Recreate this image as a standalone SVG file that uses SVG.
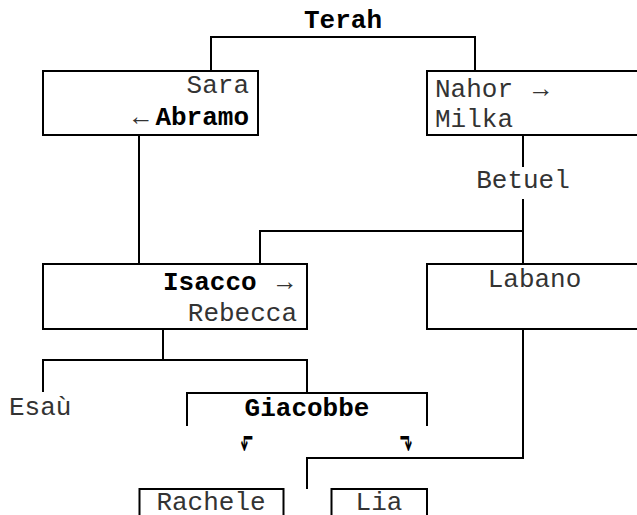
<svg xmlns="http://www.w3.org/2000/svg" width="637" height="515" viewBox="0 0 637 515">
<style>
  .bg { fill: #ffffff; }
  .box { fill: #ffffff; stroke: #000000; stroke-width: 2; }
  .ln { fill: none; stroke: #000000; stroke-width: 2; }
  text { font-family: "Liberation Mono", "DejaVu Sans Mono", monospace; font-size: 26px; fill: #333333; }
  .b { font-weight: bold; fill: #000000; }
  .arr { font-family: "DejaVu Sans", "Liberation Sans", sans-serif; font-size: 28px; fill: #000000; }
</style>
<rect class="bg" x="0" y="0" width="637" height="515"/>
<g id="connectors">
  <path class="ln" d="M211,71 V37 H475 V71"/>
  <path class="ln" d="M139,135 V264"/>
  <path class="ln" d="M523,135 V167"/>
  <path class="ln" d="M523,199 V264"/>
  <path class="ln" d="M260,264 V231 H523"/>
  <path class="ln" d="M163,329 V360"/>
  <path class="ln" d="M43,392 V360 H307 V393"/>
  <path class="ln" d="M187,426 V393 H427 V426"/>
  <path class="ln" d="M523,329 V458 H307 V489"/>
</g>
<g id="terah"><text class="b" x="343" y="27.5" text-anchor="middle">Terah</text></g>
<g id="abramo-sara">
  <rect class="box" x="43" y="71" width="215" height="64"/>
  <text x="249" y="93" text-anchor="end">Sara</text>
  <text x="133" y="125">←</text>
  <text class="b" x="249" y="125" text-anchor="end">Abramo</text>
</g>
<g id="nahor-milka">
  <rect class="box" x="427" y="71" width="222" height="64"/>
  <text x="435" y="97">Nahor</text>
  <text x="533" y="97">→</text>
  <text x="435" y="126.5">Milka</text>
</g>
<g id="betuel"><text x="523" y="188" text-anchor="middle">Betuel</text></g>
<g id="isacco-rebecca">
  <rect class="box" x="43" y="264" width="264" height="65"/>
  <text class="b" x="163" y="290">Isacco</text>
  <text x="277" y="290">→</text>
  <text x="297" y="321" text-anchor="end">Rebecca</text>
</g>
<g id="labano">
  <rect class="box" x="427" y="264" width="222" height="65"/>
  <text x="534.5" y="287" text-anchor="middle">Labano</text>
</g>
<g id="esau"><text x="9" y="415">Esaù</text></g>
<g id="giacobbe">
  <text class="b" x="307" y="416" text-anchor="middle">Giacobbe</text>
  <text class="arr" transform="translate(247,451) scale(0.55,1.5)" x="0" y="0" text-anchor="middle">⬐</text>
  <text class="arr" transform="translate(406,451) scale(0.55,1.5)" x="0" y="0" text-anchor="middle">⬎</text>
</g>
<g id="rachele">
  <rect class="box" x="139.5" y="489" width="144" height="40"/>
  <text x="211" y="510" text-anchor="middle">Rachele</text>
</g>
<g id="lia">
  <rect class="box" x="331.5" y="489" width="95.5" height="40"/>
  <text x="379" y="510" text-anchor="middle">Lia</text>
</g>
</svg>
